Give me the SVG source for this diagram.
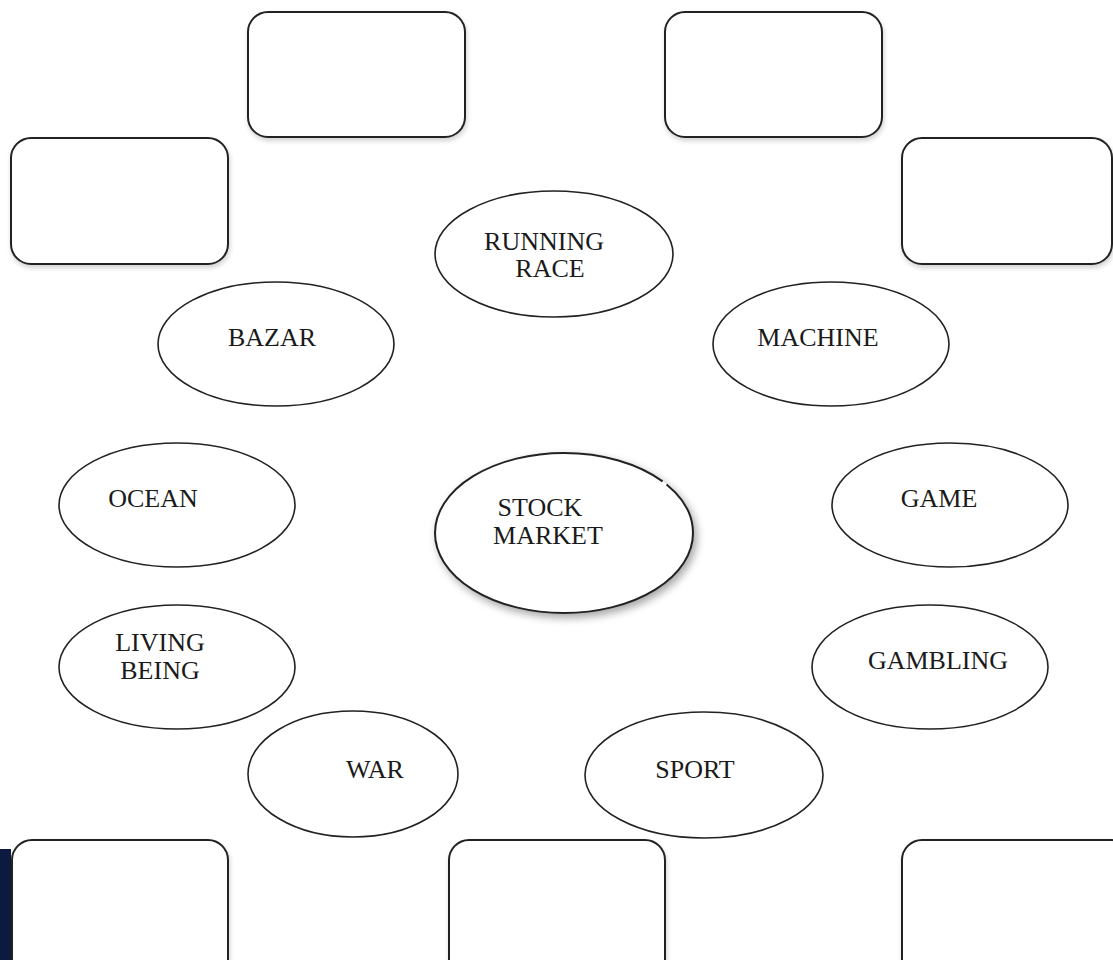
<svg xmlns="http://www.w3.org/2000/svg" width="1113" height="960" viewBox="0 0 1113 960">
<defs>
<filter id="soft" x="-10%" y="-10%" width="120%" height="130%">
<feGaussianBlur in="SourceAlpha" stdDeviation="2.5"/>
<feOffset dx="1" dy="3" result="b"/>
<feComponentTransfer><feFuncA type="linear" slope="0.18"/></feComponentTransfer>
<feMerge><feMergeNode/><feMergeNode in="SourceGraphic"/></feMerge>
</filter>
<filter id="strong" x="-10%" y="-10%" width="125%" height="130%">
<feGaussianBlur in="SourceAlpha" stdDeviation="4"/>
<feOffset dx="3" dy="4" result="b"/>
<feComponentTransfer><feFuncA type="linear" slope="0.35"/></feComponentTransfer>
<feMerge><feMergeNode/><feMergeNode in="SourceGraphic"/></feMerge>
</filter>
</defs>
<style>
.box{fill:#fff;stroke:#222;stroke-width:2;filter:url(#soft)}
.ell{fill:#fff;stroke:#222;stroke-width:1.6}
.t{font-family:"Liberation Serif","Times New Roman",serif;font-size:26px;fill:#1a1a1a;text-anchor:middle}
</style>
<rect width="1113" height="960" fill="#fff"/>
<rect x="0" y="849" width="11" height="111" fill="#0d1a40"/>
<g id="box-top-left"><rect class="box" x="248" y="12" width="217" height="125" rx="20"/></g>
<g id="box-top-right"><rect class="box" x="665" y="12" width="217" height="125" rx="20"/></g>
<g id="box-left"><rect class="box" x="11" y="138" width="217" height="126" rx="20"/></g>
<g id="box-right"><rect class="box" x="902" y="138" width="210" height="126" rx="20"/></g>
<g id="box-bottom-left"><rect class="box" x="12" y="840" width="216" height="140" rx="20"/></g>
<g id="box-bottom-mid"><rect class="box" x="449" y="840" width="216" height="140" rx="20"/></g>
<g id="box-bottom-right"><rect class="box" x="902" y="840" width="230" height="140" rx="20"/></g>
<g id="running-race"><ellipse class="ell" cx="554" cy="254" rx="119" ry="63"/><text class="t" x="544" y="250">RUNNING</text><text class="t" x="550" y="277">RACE</text></g>
<g id="bazar"><ellipse class="ell" cx="276" cy="344" rx="118" ry="62"/><text class="t" x="272" y="346">BAZAR</text></g>
<g id="machine"><ellipse class="ell" cx="831" cy="344" rx="118" ry="62"/><text class="t" x="818" y="346">MACHINE</text></g>
<g id="ocean"><ellipse class="ell" cx="177" cy="505" rx="118" ry="62"/><text class="t" x="153" y="507">OCEAN</text></g>
<g id="stock-market"><ellipse cx="564" cy="533" rx="129" ry="80" fill="#fff" stroke="#222" stroke-width="2" filter="url(#strong)" stroke-dasharray="603 5 200"/><text class="t" x="540" y="516">STOCK</text><text class="t" x="548" y="544">MARKET</text></g>
<g id="game"><ellipse class="ell" cx="950" cy="505" rx="118" ry="62"/><text class="t" x="939" y="507">GAME</text></g>
<g id="living-being"><ellipse class="ell" cx="177" cy="667" rx="118" ry="62"/><text class="t" x="160" y="651">LIVING</text><text class="t" x="160" y="679">BEING</text></g>
<g id="gambling"><ellipse class="ell" cx="930" cy="667" rx="118" ry="62"/><text class="t" x="938" y="669">GAMBLING</text></g>
<g id="war"><ellipse class="ell" cx="353" cy="774" rx="105" ry="63"/><text class="t" x="375" y="778">WAR</text></g>
<g id="sport"><ellipse class="ell" cx="704" cy="775" rx="119" ry="63"/><text class="t" x="695" y="778">SPORT</text></g>
<g id="connectors"></g>
</svg>
